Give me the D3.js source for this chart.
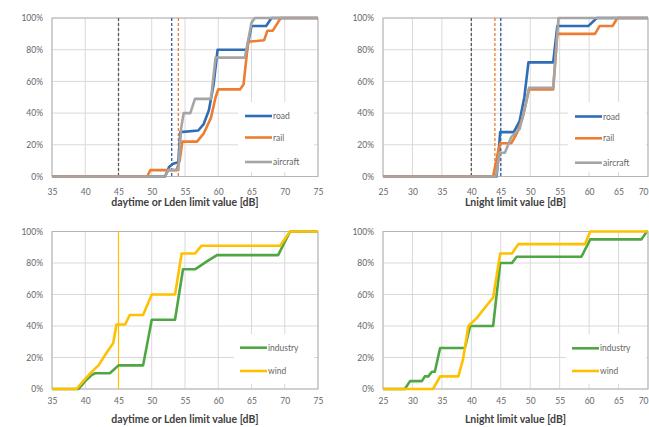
<!DOCTYPE html>
<html>
<head>
<meta charset="utf-8">
<script src="https://cdn.jsdelivr.net/npm/d3@7"></script>
<style>
  body { margin: 0; background: #fff; }
  svg { display: block; font-family: Lato, "Open Sans", sans-serif; }
</style>
</head>
<body>
<script>
// data: cumulative share of limit values (%) against limit value (dB)
var ldenTicks = [35, 40, 45, 50, 55, 60, 65, 70, 75];
var lnightTicks = [25, 30, 35, 40, 45, 50, 55, 60, 65, 70];
var pctTicks = [0, 20, 40, 60, 80, 100];

var ldenRoad = [[35,0],[52,0],[52.6,6],[53.2,8],[54,9],[54.3,28],[57,29],[57.8,33],[58.6,42],[59.3,58],[59.9,80],[64.3,80],[65,95],[67.2,95],[68,100],[75,100]];
var ldenRail = [[35,0],[49.3,0],[49.8,4],[53.7,4],[54.2,10],[54.6,22],[56.8,22],[57.8,27],[58.9,37],[59.6,50],[60,55],[63.3,55],[63.8,58],[64.5,85],[66.9,86],[67.4,92],[68.2,92],[69.4,100],[75,100]];
var ldenAircraft = [[35,0],[52,0],[52.5,4],[54,4],[54.4,30],[54.8,40],[55.8,40],[56.5,49],[58.9,49],[59.6,75],[64,75],[65,97],[65.5,100],[75,100]];

var lnightRoad = [[25,0],[44.3,0],[44.9,28],[47.2,28],[48.2,35],[49,50],[49.7,72],[53.9,72],[54.6,95],[59.9,95],[61.3,100],[70,100]];
var lnightRail = [[25,0],[43.7,0],[44.5,15],[44.9,21],[46.8,21],[47.7,27],[48.7,37],[49.5,50],[49.8,55],[53.9,55],[54.6,90],[61,90],[61.8,95],[64,95],[64.8,100],[70,100]];
var lnightAircraft = [[25,0],[44.2,0],[44.8,15],[45.7,15],[46.8,25],[48.2,30],[49.2,45],[49.8,56],[53.9,56],[54.8,100],[70,100]];

var ldenIndustry = [[35,0],[39,0],[40,5],[41,9],[41.5,10],[43.7,10],[45,15],[48.7,15],[50,44],[53.5,44],[54.7,76],[56.5,76],[58.3,81],[59.8,85],[69,85],[70.8,100],[75,100]];
var ldenWind = [[35,0],[38.7,0],[39.7,5],[41,11],[42,15],[43.2,23],[44.2,29],[44.7,41],[46,41],[46.7,47],[48.7,47],[50,60],[53.5,60],[54.5,86],[56.5,86],[57.5,91],[69.3,91],[70.8,100],[75,100]];

var lnightIndustry = [[25,0],[28.7,0],[29.6,5],[31.6,5],[32.1,8],[32.7,8],[33.3,11],[33.8,11],[34.7,26],[38.9,26],[39.8,40],[43.7,40],[44.9,80],[46.9,80],[47.7,84],[58.7,84],[60.2,95],[68.9,95],[69.8,100],[70,100]];
var lnightWind = [[25,0],[33.5,0],[34.7,8],[37.8,8],[38.6,19],[39.5,40],[40.9,45],[42.6,53],[43.7,58],[44.9,86],[46.9,86],[48,92],[59.3,92],[60.2,100],[70,100]];

// guideline limit values (dB)
var ldenLimits = [45, 53, 54];
var lnightLimits = [40, 44, 45];
var windLimits = [45];

var transportNames = ['road', 'rail', 'aircraft'];
var otherNames = ['industry', 'wind'];

// ----------------------------------------------------------------------------
var colors = {
  road: '#2f6db6', rail: '#ed7d31', aircraft: '#a5a5a5',
  industry: '#4ea743', wind: '#ffc000'
};

var svg = d3.select('body').append('svg')
  .attr('width', 649)
  .attr('height', 427);

var panels = [
  { left: 52, right: 318, top: 18, bottom: 176.5, domain: [35, 75], ticks: ldenTicks,
    title: 'daytime or Lden limit value [dB]', titleY: 206,
    names: transportNames, series: [ldenRoad, ldenRail, ldenAircraft],
    limits: ldenLimits, limitColors: ['#595959', '#2f5f9e', '#ed7d31'], limitDash: '3,2',
    legend: { x: 245, y: [116, 137.5, 162], box: [238, 102, 76, 70] } },
  { left: 383, right: 648, top: 18, bottom: 176.5, domain: [25, 70], ticks: lnightTicks,
    title: 'Lnight limit value [dB]', titleY: 206,
    names: transportNames, series: [lnightRoad, lnightRail, lnightAircraft],
    limits: lnightLimits, limitColors: ['#595959', '#ed7d31', '#2f5f9e'], limitDash: '3,2',
    legend: { x: 575, y: [116.5, 138.3, 162.7], box: [568, 102, 78, 70] } },
  { left: 52, right: 318, top: 231.5, bottom: 389, domain: [35, 75], ticks: ldenTicks,
    title: 'daytime or Lden limit value [dB]', titleY: 423,
    names: otherNames, series: [ldenIndustry, ldenWind],
    limits: windLimits, limitColors: ['#ffc000'], limitDash: null,
    legend: { x: 240, y: [347.7, 371], box: [234, 334, 80, 50] } },
  { left: 383, right: 648, top: 231.5, bottom: 389, domain: [25, 70], ticks: lnightTicks,
    title: 'Lnight limit value [dB]', titleY: 423,
    names: otherNames, series: [lnightIndustry, lnightWind],
    limits: [], limitColors: [], limitDash: null,
    legend: { x: 572, y: [348.3, 371], box: [566, 334, 80, 50] } }
];

panels.forEach(function ( p ) {
  var x = d3.scaleLinear().domain(p.domain).range([p.left, p.right]);
  var y = d3.scaleLinear().domain([0, 100]).range([p.bottom, p.top]);
  var g = svg.append('g');

  // grid
  g.selectAll('line.hg').data(pctTicks).enter().append('line')
    .attr('x1', p.left).attr('x2', p.right)
    .attr('y1', function ( d ) { return y(d); })
    .attr('y2', function ( d ) { return y(d); })
    .attr('stroke', '#d9d9d9').attr('stroke-width', 1);
  g.selectAll('line.vg').data(p.ticks).enter().append('line')
    .attr('x1', function ( d ) { return x(d); })
    .attr('x2', function ( d ) { return x(d); })
    .attr('y1', p.top).attr('y2', p.bottom)
    .attr('stroke', '#d9d9d9').attr('stroke-width', 1);
  g.append('rect')
    .attr('x', p.left).attr('y', p.top)
    .attr('width', p.right - p.left).attr('height', p.bottom - p.top)
    .attr('fill', 'none').attr('stroke', '#b4b4b4').attr('stroke-width', 1);

  // axes labels
  var xAxis = g.append('g')
    .attr('transform', 'translate(0,' + p.bottom + ')')
    .call(d3.axisBottom(x).tickValues(p.ticks).tickSize(0).tickPadding(p.top < 100 ? 12 : 9));
  var yAxis = g.append('g')
    .attr('transform', 'translate(' + p.left + ',0)')
    .call(d3.axisLeft(y).tickValues(pctTicks).tickSize(0).tickPadding(9)
      .tickFormat(function ( d ) { return d + '%'; }));
  [xAxis, yAxis].forEach(function ( a ) {
    a.select('.domain').remove();
    a.selectAll('text').attr('fill', '#666').style('font-size', '8.5px')
      .style('font-family', 'Lato, sans-serif');
  });
  // last label on the right edge of the picture: keep it inside
  if (p.right > 640) {
    xAxis.selectAll('.tick').filter(function ( d ) { return d === p.domain[1]; })
      .select('text').attr('text-anchor', 'end');
  }

  g.append('text')
    .attr('x', (p.left + p.right) / 2)
    .attr('y', p.titleY)
    .attr('text-anchor', 'middle')
    .attr('fill', '#404040')
    .style('font-size', '10.5px').style('font-weight', 'bold')
    .text(p.title);

  // legend box (white, hides grid)
  g.append('rect')
    .attr('x', p.legend.box[0]).attr('y', p.legend.box[1])
    .attr('width', p.legend.box[2]).attr('height', p.legend.box[3])
    .attr('fill', '#fff');

  // limit lines
  g.selectAll('line.lim').data(p.limits).enter().append('line')
    .attr('x1', function ( d ) { return x(d); })
    .attr('x2', function ( d ) { return x(d); })
    .attr('y1', p.top).attr('y2', p.bottom)
    .attr('stroke', function ( d, i ) { return p.limitColors[i]; })
    .attr('stroke-width', p.limitDash ? 1.3 : 1.2)
    .attr('stroke-dasharray', p.limitDash);

  // curves
  var line = d3.line()
    .x(function ( d ) { return x(d[0]); })
    .y(function ( d ) { return y(d[1]); });
  g.selectAll('path.curve').data(p.series).enter().append('path')
    .attr('d', line)
    .attr('fill', 'none')
    .attr('stroke', function ( d, i ) { return colors[p.names[i]]; })
    .attr('stroke-width', 2.6)
    .attr('stroke-linejoin', 'round');

  // legend
  p.names.forEach(function ( n, i ) {
    var ly = p.legend.y[i];
    g.append('line')
      .attr('x1', p.legend.x).attr('x2', p.legend.x + 27)
      .attr('y1', ly).attr('y2', ly)
      .attr('stroke', colors[n]).attr('stroke-width', 2.6);
    g.append('text')
      .attr('x', p.legend.x + 28).attr('y', ly + 3)
      .attr('fill', '#666').style('font-size', '8.5px')
      .text(n);
  });
});
</script>
</body>
</html>
